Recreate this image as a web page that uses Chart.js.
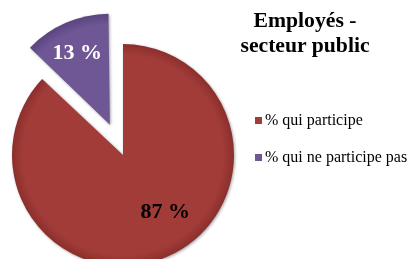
<!DOCTYPE html>
<html>
<head>
<meta charset="utf-8">
<script src="https://cdn.jsdelivr.net/npm/chart.js@4"></script>
<style>
    html, body { margin: 0; padding: 0; background: #fff; overflow: hidden; }
    #wrap { position: relative; width: 414px; height: 259px; }
    #pieChart { position: absolute; left: 0; top: 0; }
    #title {
        position: absolute; left: 236px; top: 8px; width: 138px;
        text-align: center; font: bold 21.7px "Liberation Serif", serif;
        line-height: 25px; color: #000;
    }
    #legend { position: absolute; left: 255px; top: 0; font: 16px "Liberation Serif", serif; color: #000; }
    #legend div { position: absolute; white-space: nowrap; left: 0; }
    #legend span.box { display: inline-block; width: 7px; height: 7px; margin-right: 3px; vertical-align: 1px; }
</style>
</head>
<body>
<div id="wrap">
    <canvas id="pieChart" width="414" height="259"></canvas>
    <div id="title">Employés -<br>secteur public</div>
    <div id="legend"></div>
</div>
<script>
// chart data
const categories = ['% qui participe', '% qui ne participe pas'];
const shares = [87, 13];
const valueLabels = ['87 %', '13 %'];
const sliceColors = ['#A23C39', '#6E5794'];
const sliceEdges = ['#8B2F2C', '#5A4580'];

const PIE_RADIUS = 111;

// radial shading so the slices look a bit like the Excel bevel
function sliceFill(context) {
    const chart = context.chart;
    const area = chart.chartArea;
    const i = context.dataIndex;
    if (!area) return sliceColors[i];
    const cx = (area.left + area.right) / 2;
    const cy = (area.top + area.bottom) / 2;
    const g = chart.ctx.createRadialGradient(cx, cy, 0, cx, cy, PIE_RADIUS);
    g.addColorStop(0, sliceColors[i]);
    g.addColorStop(0.9, sliceColors[i]);
    g.addColorStop(1, sliceEdges[i]);
    return g;
}

// Chart.js moves an offset arc by offset/4 and also grows its radius a bit;
// take that growth back so the pulled-out slice keeps the same radius
const keepRadius = {
    id: 'keepRadius',
    afterDatasetUpdate(chart, args) {
        args.meta.data.forEach(function(arc) {
            const off = (arc.options.offset || 0) / 4;
            const fix = 1 - Math.sin(Math.min(Math.PI, arc.circumference));
            arc.outerRadius = PIE_RADIUS - off * fix;
        });
    }
};

// percent labels drawn on the slices
const sliceLabels = {
    id: 'sliceLabels',
    afterDatasetsDraw(chart, args, opts) {
        const ctx = chart.ctx;
        const arcs = chart.getDatasetMeta(0).data;
        ctx.save();
        ctx.font = 'bold 22px "Liberation Serif", serif';
        ctx.textAlign = 'center';
        ctx.textBaseline = 'middle';
        arcs.forEach(function(arc, i) {
            const p = arc.getProps(['x', 'y', 'startAngle', 'endAngle']);
            const mid = (p.startAngle + p.endAngle) / 2;
            const off = (arc.options.offset || 0) / 4;
            const a = mid + opts.shift[i] * Math.PI / 180;
            const d = PIE_RADIUS * opts.dist[i];
            const x = p.x + Math.cos(mid) * off + Math.cos(a) * d;
            const y = p.y + Math.sin(mid) * off + Math.sin(a) * d;
            ctx.fillStyle = opts.colors[i];
            ctx.fillText(valueLabels[i], x, y);
        });
        ctx.restore();
    }
};

const softShadow = {
    id: 'softShadow',
    beforeDatasetsDraw(chart) {
        const ctx = chart.ctx;
        ctx.save();
        ctx.shadowColor = 'rgba(0, 0, 0, 0.35)';
        ctx.shadowBlur = 3;
        ctx.shadowOffsetX = 1;
        ctx.shadowOffsetY = 1;
    },
    afterDatasetsDraw(chart) {
        chart.ctx.restore();
    }
};

const chart = new Chart(document.getElementById('pieChart').getContext('2d'), {
    type: 'pie',
    data: {
        labels: categories,
        datasets: [{
            data: shares,
            backgroundColor: sliceFill,
            borderWidth: 0,
            offset: [0, 132],   // 132 / 4 = 33px pull-out
            hoverOffset: 0
        }]
    },
    options: {
        responsive: false,
        animation: false,
        events: [],
        radius: PIE_RADIUS,
        layout: { padding: { left: 0, right: 168, top: 51, bottom: 0 } },
        plugins: {
            legend: { display: false },
            tooltip: { enabled: false },
            sliceLabels: {
                shift: [-13, -1],
                dist: [0.64, 0.71],
                colors: ['#000000', '#ffffff']
            }
        }
    },
    plugins: [keepRadius, softShadow, sliceLabels]
});

// legend on the right, built from the chart's own labels
const legendEl = document.getElementById('legend');
const legendTops = [111, 148];
categories.forEach(function(name, i) {
    const row = document.createElement('div');
    row.style.top = legendTops[i] + 'px';
    const box = document.createElement('span');
    box.className = 'box';
    box.style.background = sliceColors[i];
    row.appendChild(box);
    row.appendChild(document.createTextNode(name));
    legendEl.appendChild(row);
});
</script>
</body>
</html>
